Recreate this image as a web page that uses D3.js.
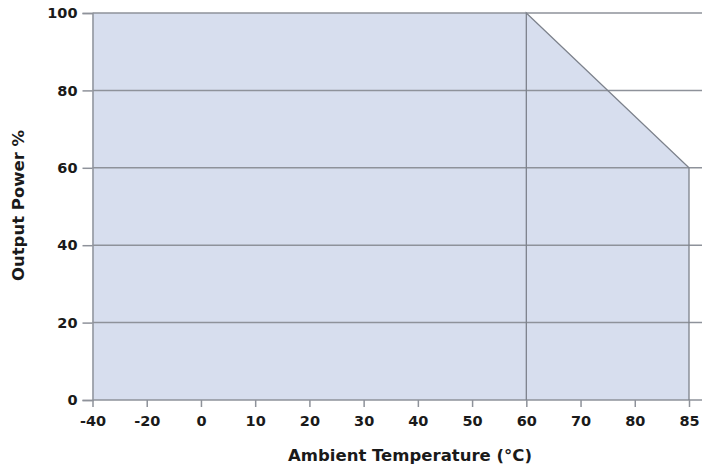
<!DOCTYPE html>
<html>
<head>
<meta charset="utf-8">
<script src="https://cdn.jsdelivr.net/npm/d3@7"></script>
<style>
  body { margin: 0; background: #fff; }
  text { font-family: "DejaVu Sans", sans-serif; font-weight: bold; fill: #1a1a1a; }
</style>
</head>
<body>
<svg id="derating_chart"></svg>
<script>
// x tick labels (temperature, °C) - drawn evenly spaced like the original
const xTicks = [-40, -20, 0, 10, 20, 30, 40, 50, 60, 70, 80, 85]
const yTicks = [0, 20, 40, 60, 80, 100]

// derating curve: temperature vs output power %
const tempPts = [-40, -40, 60, 85, 85]
const powerPts = [0, 100, 100, 60, 0]

// set the dimensions and margins of the graph
var margin = {top: 13, right: 26, bottom: 69, left: 92.5},
  fullWidth = 715, fullHeight = 469,
  width = 689 - margin.left,
  height = fullHeight - margin.top - margin.bottom;

var svg = d3.select("#derating_chart")
  .attr("width", fullWidth)
  .attr("height", fullHeight)

var step = width / (xTicks.length - 1)

// piecewise scale so every tick sits at an even step
var x = d3.scaleLinear()
  .domain(xTicks)
  .range(xTicks.map((d, i) => margin.left + i * step))

var y = d3.scaleLinear()
  .domain([0, 100])
  .range([margin.top + height, margin.top])

var lineColor = "#8e929a"

// shaded area
var pts = tempPts.map((t, i) => [x(t), y(powerPts[i])])
svg.append("path")
  .attr("d", d3.line()(pts) + "Z")
  .attr("fill", "#d7deee")
  .attr("stroke", "none")

// horizontal grid lines
svg.append("g")
  .selectAll("line")
  .data(yTicks)
  .enter().append("line")
  .attr("x1", margin.left)
  .attr("x2", 702)
  .attr("y1", d => y(d))
  .attr("y2", d => y(d))
  .attr("stroke", lineColor)
  .attr("stroke-width", 1.5)

// outline of the derating curve (vertical at 60, slope, right edge)
svg.append("path")
  .attr("d", d3.line()([[x(60), y(0)], [x(60), y(100)], [x(85), y(60)], [x(85), y(0)]]))
  .attr("fill", "none")
  .attr("stroke", "#7d828c")
  .attr("stroke-width", 1.3)

// y axis
svg.append("g")
  .attr("class", "yAxis")
  .attr("transform", "translate(" + margin.left + ",0)")
  .call(d3.axisLeft(y).tickValues(yTicks).tickSize(10).tickPadding(5))

// x axis (plain hyphen for negatives, like the original)
svg.append("g")
  .attr("class", "xAxis")
  .attr("transform", "translate(0," + (margin.top + height) + ")")
  .call(d3.axisBottom(x).tickValues(xTicks).tickSize(7).tickPadding(9).tickFormat(d => String(d)))

svg.selectAll(".domain")
  .attr("stroke", lineColor)
  .attr("stroke-width", 1.5)

svg.selectAll(".tick line")
  .attr("stroke", lineColor)
  .attr("stroke-width", 1.5)

svg.selectAll(".tick text")
  .attr("font-size", "14.5px")
  .attr("font-family", "DejaVu Sans, sans-serif")
  .attr("fill", "#1a1a1a")

// hide x domain so the grid line at 0 does the job
svg.select(".xAxis .domain").attr("opacity", 0)

// axis titles
svg.append("text")
  .text("Ambient Temperature (°C)")
  .attr("x", 410)
  .attr("y", 461)
  .attr("text-anchor", "middle")
  .attr("font-size", "16.5px")

svg.append("text")
  .text("Output Power %")
  .attr("transform", "translate(24,205.5) rotate(-90)")
  .attr("text-anchor", "middle")
  .attr("font-size", "16.5px")
</script>
</body>
</html>
